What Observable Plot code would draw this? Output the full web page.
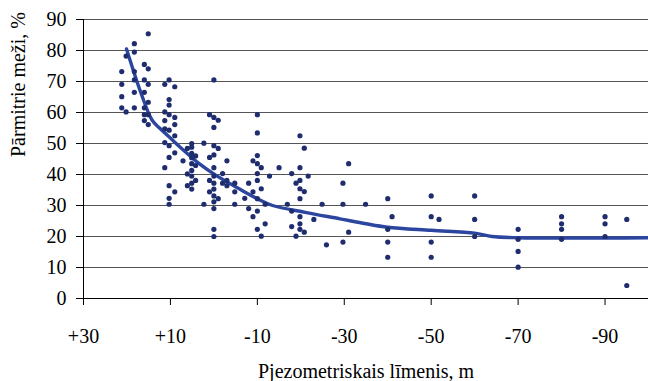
<!DOCTYPE html>
<html>
<head>
<meta charset="utf-8">
<script src="https://cdn.jsdelivr.net/npm/d3@7"></script>
<script src="https://cdn.jsdelivr.net/npm/@observablehq/plot@0.6"></script>
<style>
  html, body { margin: 0; padding: 0; background: #fff; }
</style>
</head>
<body>
<div id="chart"></div>
<script>
// Piezometric level of each observation (m) and share of wet forests (%)
const obsLevel = [
  21.2, 21.2, 21.2, 21.2,
  20.2, 20.2,
  18.3, 18.3, 18.3, 18.3, 18.3, 18.3,
  16, 16, 16, 16, 16, 16,
  15.1, 15.1, 15.1, 15.1, 15.1, 15.1,
  11.3, 11.3, 11.3, 11.3, 11.3, 11.3,
  10.3, 10.3, 10.3, 10.3, 10.3, 10.3, 10.3, 10.3, 10.3, 10.3,
  9, 9, 9, 9, 9, 9,
  7.1,
  6.1, 6.1, 6.1,
  5.1, 5.1, 5.1, 5.1, 5.1, 5.1, 5.1, 5.1, 5.1,
  4.2, 4.2, 4.2,
  2.3, 2.3,
  1, 1, 1, 1,
  0, 0, 0, 0, 0, 0, 0, 0, 0, 0, 0, 0, 0, 0,
  -1, -1, -1,
  -2, -2,
  -3, -3, -3,
  -4.8, -4.8, -4.8,
  -7.1,
  -8, -8,
  -9, -9, -9,
  -10, -10, -10, -10, -10, -10, -10, -10, -10,
  -10.9, -10.9, -10.9,
  -11.8, -11.8,
  -12.8,
  -15,
  -16.9,
  -17.9, -17.9, -17.9,
  -18.9, -18.9,
  -19.8, -19.8, -19.8, -19.8, -19.8, -19.8, -19.8, -19.8,
  -20.8, -20.8, -20.8,
  -21.7,
  -23,
  -24.9,
  -25.9,
  -29.7, -29.7, -29.7,
  -31, -31,
  -34.9,
  -40, -40, -40, -40,
  -41,
  -50, -50, -50, -50,
  -51.8,
  -60, -60, -60,
  -70, -70, -70, -70,
  -80, -80, -80, -80,
  -90, -90, -90,
  -95, -95
];
const obsShare = [
  73.2, 69.1, 65.1, 61.5,
  78.2, 60.2,
  82.2, 79.5, 73.2, 70.5, 66.5, 61.5,
  75.5, 70.5, 66.5, 61.5, 59.3, 57.4,
  85.4, 74.1, 69.1, 63.3, 59.3, 56.1,
  69.1, 60.2, 57.4, 54.7, 50.3, 42.2,
  70.5, 64.2, 62.4, 59.3, 54.3, 49.3, 45.5, 36.4, 32.3, 30.4,
  68.3, 58.4, 56.1, 52.5, 47, 34.4,
  44.4,
  48.4, 40.2, 36.4,
  50, 48.8, 46.8, 45.4, 43.5, 41.3, 39.5, 37.2, 35.3,
  46, 42.9, 38.1,
  50.1, 30.4,
  59.3, 45.5, 38.1, 34.4,
  70.5, 58.4, 55.2, 49.3, 46.3, 42.2, 39.5, 37.2, 35.3, 33.1, 31.2, 29, 22.3, 20,
  57.5, 48.4, 32.2,
  40.3, 37.2,
  44.4, 38.1, 36.4,
  37.2, 34.4, 30.4,
  32.3,
  37.2, 29,
  44.4, 34.4, 26.4,
  59.3, 53.4, 46.1, 43.5, 40.3, 38.1, 32.2, 28.2, 22.3,
  42.2, 35.4, 20.1,
  30.4, 24.1,
  39.5,
  42.2,
  30.4,
  40.3, 28.2, 23.2,
  37.2, 20.1,
  52.5, 42.2, 38.1, 35.4, 32.2, 26.4, 24.1, 22.3,
  48.5, 34.5, 21.4,
  39.5,
  25.5,
  30.4,
  17.3,
  37.2, 30.4, 18.2,
  43.5, 21.4,
  30.4,
  32.2, 22.3, 18.2, 13.3,
  26.4,
  33.1, 26.4, 18.2, 13.3,
  25.5,
  33.1, 25.5, 20,
  22.3, 19.1, 15.2, 10.1,
  26.4, 24.1, 22.3, 19.1,
  26.4, 24.1, 20,
  25.5, 4.2
];

// Fitted trend curve
const trendLevel = [20.1, 16.7, 14.2, 12.5, 10.2, 7.5, 3.3, -0.5, -5.8, -10, -13.5, -21, -29, -35, -40, -50, -60, -64, -70, -100];
const trendShare = [80.5, 66, 57.5, 55, 52, 48.5, 43.4, 39.7, 35.4, 32.2, 30, 27.8, 25.7, 24.1, 23, 22, 21.1, 20, 19.6, 19.6];

// Axis ticks and titles
const levelTicks = [30, 10, -10, -30, -50, -70, -90];
const shareTicks = [0, 10, 20, 30, 40, 50, 60, 70, 80, 90];
const xTitle = "Pjezometriskais līmenis, m";
const yTitle = "Pārmitrie meži, %";

const points = obsLevel.map((x, i) => ({level: x, share: obsShare[i]}));
const trend = trendLevel.map((x, i) => ({level: x, share: trendShare[i]}));
const fmtLevel = d => d > 0 ? "+" + d : String(d);
const serif = "Liberation Serif";

const chart = Plot.plot({
  width: 648,
  height: 381,
  marginLeft: 83,
  marginRight: 0,
  marginTop: 19,
  marginBottom: 83,
  x: {domain: [30, -100]},
  y: {domain: [0, 90]},
  marks: [
    Plot.ruleY(shareTicks, {stroke: "#555", strokeWidth: 1}),
    Plot.ruleX([30], {stroke: "#000"}),
    Plot.ruleY([0], {stroke: "#000"}),
    Plot.axisX({ticks: levelTicks, tickFormat: fmtLevel, tickSize: 7, tickPadding: 23, label: null, stroke: "#000", fill: "#000", fontFamily: serif, fontSize: 20}),
    Plot.axisY({ticks: shareTicks, tickSize: 7, tickPadding: 10, label: null, stroke: "#000", fill: "#000", fontFamily: serif, fontSize: 20}),
    Plot.line(trend, {x: "level", y: "share", stroke: "#2c46a0", strokeWidth: 3.4, curve: "catmull-rom"}),
    Plot.dot(points, {x: "level", y: "share", r: 2.6, fill: "#1f2d6e", stroke: "none"}),
    Plot.text([xTitle], {text: d => d, frameAnchor: "bottom", dy: 73, lineAnchor: "middle", fontSize: 20, fontFamily: serif, fill: "#000"}),
    Plot.text([yTitle], {text: d => d, frameAnchor: "left", rotate: -90, dx: -65, dy: -2, lineAnchor: "middle", fontSize: 20, fontFamily: serif, fill: "#000"})
  ]
});
chart.setAttribute("font-family", serif);
chart.querySelectorAll("text").forEach(t => t.setAttribute("font-family", serif));
document.getElementById("chart").appendChild(chart);
</script>
</body>
</html>
